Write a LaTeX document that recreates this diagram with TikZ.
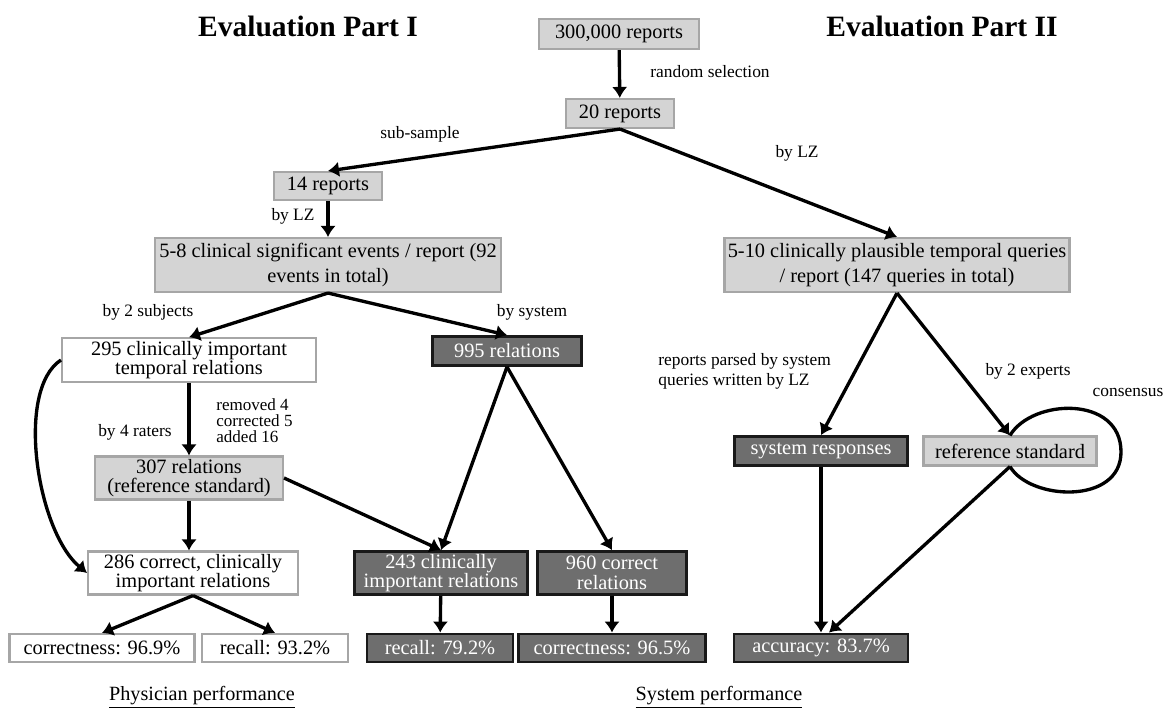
\documentclass[tikz,border=0pt]{standalone}
\usepackage{fontspec}
\setmainfont{Liberation Serif}
\usepackage{tikz}
\usetikzlibrary{arrows.meta,calc}

\definecolor{boxlight}{HTML}{D4D4D4}
\definecolor{edgelight}{HTML}{A6A6A6}
\definecolor{boxdark}{HTML}{6E6E6E}

\begin{document}
\begin{tikzpicture}[x=0.02cm, y=-0.02cm, >={Latex[length=2.2mm,width=3.1mm]},
    every node/.style={inner sep=0pt},
    box/.style={draw, line width=1.2pt, align=center, minimum height=0.58cm,
        font=\fontsize{11.6}{11.2}\selectfont},
    lightbox/.style={box, fill=boxlight, draw=edgelight},
    whitebox/.style={box, fill=white, draw=edgelight},
    darkbox/.style={box, fill=boxdark, draw=black!90, text=white, line width=1.6pt},
    lbl/.style={font=\fontsize{9.9}{11.3}\selectfont},
    link/.style={->, line width=1.9pt}]

\useasboundingbox (0,0) rectangle (1167,709);

\node[font=\fontsize{16.8}{20}\selectfont\bfseries] (titleA) at (308,26) {Evaluation Part I};
\node[font=\fontsize{16.8}{20}\selectfont\bfseries] (titleB) at (942,26) {Evaluation Part II};

\node[lightbox, minimum width=3.2cm, minimum height=0.6cm] (top) at (619,34) {300,000 reports};
\node[lightbox, minimum width=2.16cm] (twenty) at (620,113.5) {20 reports};
\node[lightbox, minimum width=2.16cm, minimum height=0.56cm] (fourteen) at (328,186) {14 reports};

\node[lightbox, minimum width=6.92cm, minimum height=1.08cm, font=\fontsize{11.6}{13.8}\selectfont]
    (events) at (328,265) {5-8 clinical significant events / report (92\\events in total)};
\node[lightbox, minimum width=6.9cm, minimum height=1.08cm, font=\fontsize{11.6}{13.8}\selectfont]
    (queries) at (897,265) {5-10 clinically plausible temporal queries\\/ report (147 queries in total)};

\node[whitebox, minimum width=5.08cm, minimum height=0.87cm] (subj) at (189,360)
    {295 clinically important\\temporal relations};
\node[darkbox, minimum width=2.98cm] (sysrel) at (507,351) {995 relations};
\node[lightbox, minimum width=3.76cm, minimum height=0.86cm] (refrel) at (189,478)
    {307 relations\\(reference standard)};

\node[whitebox, minimum width=4.2cm, minimum height=0.86cm] (correct) at (193,573)
    {286 correct, clinically\\important relations};
\node[darkbox, minimum width=3.46cm, minimum height=0.86cm] (sysimp) at (441,573)
    {243 clinically\\important relations};
\node[darkbox, minimum width=2.98cm, minimum height=0.86cm] (syscorr) at (612,573)
    {960 correct\\relations};

\node[whitebox, minimum width=3.7cm, minimum height=0.56cm] (physcor) at (102,648) {correctness: 96.9\%};
\node[whitebox, minimum width=2.92cm, minimum height=0.56cm] (physrec) at (275,648) {recall: 93.2\%};
\node[darkbox, minimum width=2.92cm, minimum height=0.56cm] (sysrec) at (440,648) {recall: 79.2\%};
\node[darkbox, minimum width=3.74cm, minimum height=0.56cm] (syscor) at (612,648) {correctness: 96.5\%};

\node[darkbox, minimum width=3.46cm] (sysresp) at (821,451) {system responses};
\node[lightbox, minimum width=3.46cm] (refstd) at (1010,451) {reference standard};
\node[darkbox, minimum width=3.48cm, minimum height=0.56cm] (accuracy) at (821,648) {accuracy: 83.7\%};

\node[lbl] (lrand) at (710,72) {random selection};
\node[lbl] (lsub) at (420,134) {sub-sample};
\node[lbl] (llzB) at (797,153) {by LZ};
\node[lbl] (llzA) at (293,216) {by LZ};
\node[lbl] (lsubj) at (148,312) {by 2 subjects};
\node[lbl] (lsys) at (532,312) {by system};
\node[lbl, anchor=west, align=left, font=\fontsize{9.7}{9.2}\selectfont] (lrev) at (216,421)
    {removed 4\\corrected 5\\added 16};
\node[lbl] (lraters) at (135,432) {by 4 raters};
\node[lbl, anchor=west, align=left] (lparse) at (658,371)
    {reports parsed by system\\queries written by LZ};
\node[lbl] (lexp) at (1028,371) {by 2 experts};
\node[lbl] (lcons) at (1128,392) {consensus};

\node[font=\fontsize{11.5}{14}\selectfont] (perfA) at (202,697) {\underline{Physician performance}};
\node[font=\fontsize{11.5}{14}\selectfont] (perfB) at (719,697) {\underline{System performance}};

\foreach \a/\b in {top/twenty, twenty.south/fourteen.north, twenty.south/queries.north,
    fourteen/events, events.south/subj.north, events.south/sysrel.north,
    queries.south/sysresp.north, queries.south/refstd.north, subj/refrel,
    refrel.east/sysimp.north, sysrel.south/sysimp.north, sysrel.south/syscorr.north,
    correct.south/physcor.north, correct.south/physrec.north,
    sysimp/sysrec, syscorr/syscor, sysresp/accuracy}
{
    \draw[link] (\a) -- (\b);
}

\draw[link] (refrel.south) -- (refrel.south |- correct.north);
\draw[link] (subj.west) .. controls +(-46,30) and +(-50,-42) .. (correct.west);
\draw[link] (refstd.south) -- ([xshift=1.6mm]accuracy.north);

\coordinate (loopR) at (1121,452);
\draw[line width=1.9pt] (refstd.north) .. controls +(22,-37) and +(0,-57) .. (loopR)
    .. controls +(0,53) and +(20,34) .. (refstd.south);

\end{tikzpicture}
\end{document}
